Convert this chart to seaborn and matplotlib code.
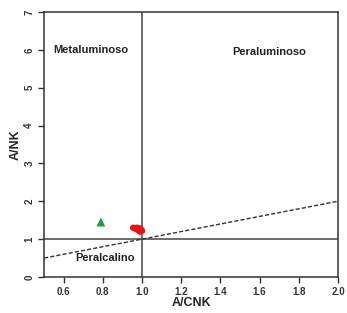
import numpy as np
import pandas as pd
import matplotlib
matplotlib.use("Agg")
import matplotlib.pyplot as plt
import seaborn as sns

# sample data
red_acnk = [0.955, 0.965, 0.97, 0.975, 0.98, 0.985, 0.99, 0.995, 1.0, 0.99, 0.98, 0.97]
red_ank = [1.30, 1.29, 1.28, 1.30, 1.27, 1.26, 1.28, 1.25, 1.22, 1.20, 1.24, 1.27]
green_acnk = [0.79]
green_ank = [1.45]

xticks = [0.6, 0.8, 1.0, 1.2, 1.4, 1.6, 1.8, 2.0]
yticks = [0, 1, 2, 3, 4, 5, 6, 7]

sns.set_style("ticks")
plt.rcParams['font.family'] = ['Liberation Sans', 'DejaVu Sans']

fig = plt.figure(figsize=(3.47, 3.13), dpi=100)
ax = fig.add_axes([0.127, 0.115, 0.847, 0.847])

df_red = pd.DataFrame({"acnk": red_acnk, "ank": red_ank})
df_green = pd.DataFrame({"acnk": green_acnk, "ank": green_ank})

sns.scatterplot(data=df_red, x="acnk", y="ank", color="#ee1111", s=22,
                edgecolor="none", marker="o", ax=ax, zorder=3)
sns.scatterplot(data=df_green, x="acnk", y="ank", color="#229944", s=40,
                edgecolor="none", marker="^", ax=ax, zorder=3)

ax.axvline(1.0, color="#444444", lw=1.1)
ax.axhline(1.0, color="#444444", lw=1.1)
ax.plot([0.5, 2.0], [0.5, 2.0], color="#333333", lw=1.0, ls=(0, (3, 1.5)))

ax.set_xlim(0.5, 2.0)
ax.set_ylim(0, 7)
ax.set_xticks(xticks)
ax.set_xticklabels([f"{v:.1f}" for v in xticks], fontsize=7, fontweight="bold", color="#333333")
ax.set_yticks(yticks)
ax.set_yticklabels([str(v) for v in yticks], fontsize=7, fontweight="bold", color="#333333",
                   rotation=90, va="center")
ax.tick_params(axis="both", length=4, width=1, color="#333333", pad=3)

for s in ax.spines.values():
    s.set_color("#333333")
    s.set_linewidth(1.1)

ax.set_xlabel("A/CNK", fontsize=9, fontweight="bold", labelpad=0)
ax.set_ylabel("A/NK", fontsize=9, fontweight="bold", labelpad=2)

ax.text(0.74, 6.0, "Metaluminoso", fontsize=8, fontweight="bold", ha="center", va="center", color="#222222")
ax.text(1.65, 5.95, "Peraluminoso", fontsize=8, fontweight="bold", ha="center", va="center", color="#222222")
ax.text(0.81, 0.5, "Peralcalino", fontsize=8, fontweight="bold", ha="center", va="center", color="#222222")

fig.savefig("out.png", dpi=100)
